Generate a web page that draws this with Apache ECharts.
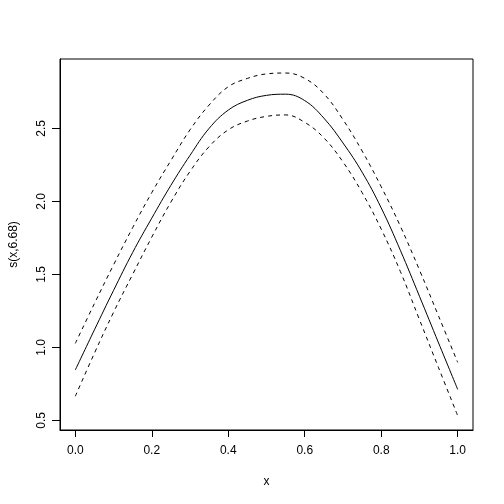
<!DOCTYPE html>
<html>
<head>
<meta charset="utf-8">
<script src="https://cdn.jsdelivr.net/npm/echarts@6/dist/echarts.min.js"></script>
<style>
html,body{margin:0;padding:0;background:#fff;}
#c{width:504px;height:504px;}
</style>
</head>
<body>
<div id="c"></div>
<script>
// Data (GAM smooth term s(x,6.68) with +/- 2 SE bands)
var xs    = [0.00,0.05,0.10,0.15,0.20,0.25,0.30,0.35,0.40,0.45,0.50,0.55,0.60,0.65,0.70,0.75,0.80,0.85,0.90,0.95,1.00];
var fit   = [0.845,1.12,1.39,1.65,1.885,2.11,2.315,2.50,2.625,2.692,2.726,2.734,2.69,2.57,2.40,2.20,1.955,1.665,1.35,1.03,0.712];
var upper = [1.027,1.30,1.565,1.82,2.06,2.28,2.49,2.66,2.785,2.842,2.873,2.879,2.842,2.737,2.56,2.345,2.10,1.83,1.53,1.214,0.897];
var lower = [0.665,0.96,1.24,1.50,1.755,1.995,2.205,2.375,2.49,2.55,2.582,2.592,2.541,2.435,2.27,2.06,1.81,1.52,1.19,0.86,0.532];
var xTicks = [0, 0.2, 0.4, 0.6, 0.8, 1.0];
var yTicks = [0.5, 1.0, 1.5, 2.0, 2.5];
var xLabel = 'x';
var yLabel = 's(x,6.68)';

function pairs(ys){ return xs.map(function(x,i){ return [x, ys[i]]; }); }

var FONT = 'Liberation Sans, Arial, Helvetica, sans-serif';
var Y_MIN = 0.434, Y_MAX = 2.975;
var GRID = {left:59, top:59, right:31, bottom:74};
var GRID_W = 504 - GRID.left - GRID.right;
var chart = echarts.init(document.getElementById('c'), null, {renderer:'canvas'});
chart.setOption({
  animation:false,
  backgroundColor:'#fff',
  grid:{left:GRID.left, top:GRID.top, right:GRID.right, bottom:GRID.bottom, show:true, borderColor:'#000', borderWidth:1, backgroundColor:'transparent'},
  xAxis:{
    type:'value', min:-0.04, max:1.04,
    name:xLabel, nameLocation:'middle', nameGap:46,
    nameTextStyle:{fontFamily:FONT, fontSize:12, color:'#000'},
    axisLine:{show:true, onZero:false, lineStyle:{color:'#000', width:1}},
    splitLine:{show:false},
    axisTick:{show:true, inside:false, length:7, customValues:xTicks, lineStyle:{color:'#000', width:1}},
    axisLabel:{show:true, customValues:xTicks, margin:15, fontFamily:FONT, fontSize:12, color:'#000',
      formatter:function(v){ return Number(v).toFixed(1); }}
  },
  yAxis:[{
    type:'value', min:Y_MIN, max:Y_MAX, position:'left',
    name:yLabel, nameLocation:'middle', nameGap:40, nameRotate:90,
    nameTextStyle:{fontFamily:FONT, fontSize:12, color:'#000'},
    axisLine:{show:true, onZero:false, lineStyle:{color:'#000', width:1}},
    splitLine:{show:false},
    axisTick:{show:true, inside:false, length:7, customValues:yTicks, lineStyle:{color:'#000', width:1}},
    axisLabel:{show:true, customValues:yTicks, rotate:90, margin:12, fontFamily:FONT, fontSize:12, color:'#000',
      formatter:function(v){ return Number(v).toFixed(1); }}
  },{
    // tick-only companion axis on the same scale, shifted onto the left frame edge;
    // its ticks point outward (to the left) like R's axis ticks
    type:'value', min:Y_MIN, max:Y_MAX, position:'right', offset:-GRID_W,
    axisLine:{show:false, onZero:false},
    splitLine:{show:false},
    axisLabel:{show:false},
    axisTick:{show:true, inside:true, length:7, customValues:yTicks, lineStyle:{color:'#000', width:1}}
  }],
  series:[
    {type:'line', data:pairs(fit), smooth:0.4, showSymbol:false, silent:true,
     lineStyle:{color:'#000', width:1, type:'solid'}},
    {type:'line', data:pairs(upper), smooth:0.4, showSymbol:false, silent:true,
     lineStyle:{color:'#000', width:1, type:[4,4]}},
    {type:'line', data:pairs(lower), smooth:0.4, showSymbol:false, silent:true,
     lineStyle:{color:'#000', width:1, type:[4,4]}}
  ]
});
</script>
</body>
</html>
